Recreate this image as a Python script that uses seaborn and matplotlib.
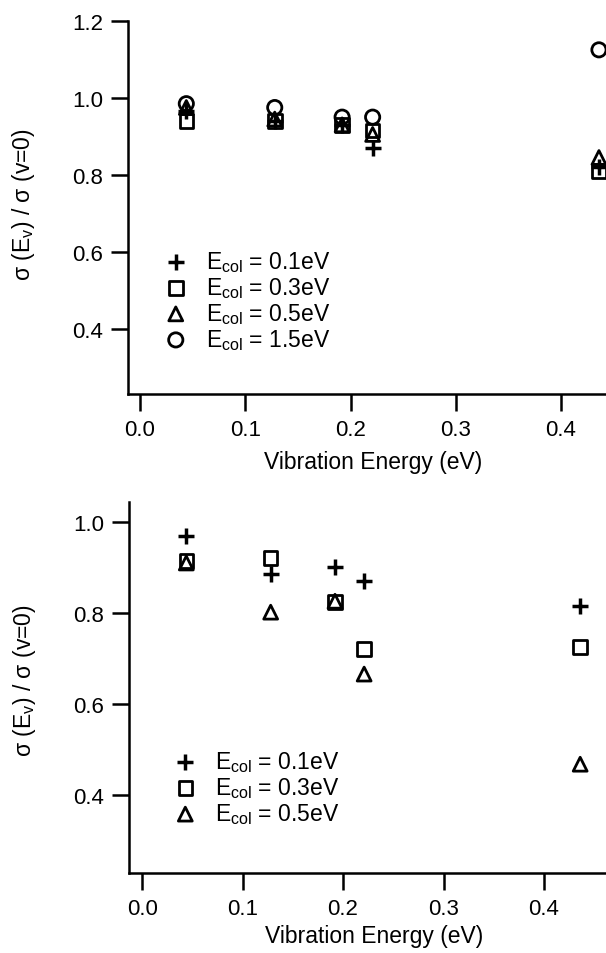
import numpy as np
import pandas as pd
import matplotlib
matplotlib.use("Agg")
import matplotlib.pyplot as plt
import seaborn as sns

# -------------------------------------------
# DATA
# -------------------------------------------
vib_energy = [0.044, 0.128, 0.192, 0.221, 0.436]

top_e01 = [0.965, 0.940, 0.930, 0.870, 0.820]
top_e03 = [0.940, 0.940, 0.930, 0.915, 0.810]
top_e05 = [0.975, 0.945, 0.930, 0.905, 0.845]
top_e15 = [0.985, 0.975, 0.950, 0.950, 1.125]

bot_e01 = [0.969, 0.886, 0.901, 0.870, 0.815]
bot_e03 = [0.914, 0.921, 0.824, 0.721, 0.725]
bot_e05 = [0.910, 0.802, 0.826, 0.666, 0.468]

labels = [r"E$_{\rm col}$ = 0.1eV", r"E$_{\rm col}$ = 0.3eV",
          r"E$_{\rm col}$ = 0.5eV", r"E$_{\rm col}$ = 1.5eV"]
markers = ["+", "s", "^", "o"]
sizes = [140, 95, 100, 105]

x_ticks = [0.0, 0.1, 0.2, 0.3, 0.4]

# -------------------------------------------
# STYLE
# -------------------------------------------
sns.set_style("ticks")
plt.rcParams["font.family"] = ["Liberation Sans", "DejaVu Sans"]
plt.rcParams["mathtext.fontset"] = "custom"
plt.rcParams["mathtext.rm"] = "Liberation Sans"
plt.rcParams["mathtext.it"] = "Liberation Sans:italic"
plt.rcParams["text.color"] = "black"
plt.rcParams["xtick.color"] = "black"
plt.rcParams["ytick.color"] = "black"
plt.rcParams["axes.edgecolor"] = "black"
plt.rcParams["axes.labelcolor"] = "black"


def draw_panel(ax, series, ylim, yticks, label_y, xlabel_y):
    for vals, lab, mk, sz in series:
        df = pd.DataFrame({"E": vib_energy, "ratio": vals})
        if mk == "+":
            sns.scatterplot(data=df, x="E", y="ratio", ax=ax, marker=mk, s=sz,
                            color="black", linewidth=2.5, label=lab, clip_on=False)
        else:
            sns.scatterplot(data=df, x="E", y="ratio", ax=ax, marker=mk, s=sz,
                            facecolors="none", edgecolor="black", linewidth=2.0,
                            label=lab, clip_on=False)
    ax.set_ylim(*ylim)
    ax.set_yticks(yticks)
    ax.set_yticklabels([f"{t:.1f}" for t in yticks])
    ax.set_xticks(x_ticks)
    ax.set_xticklabels([f"{t:.1f}" for t in x_ticks])
    ax.spines["right"].set_visible(False)
    ax.spines["top"].set_visible(False)
    for sp in ["left", "bottom"]:
        ax.spines[sp].set_linewidth(1.8)
    ax.tick_params(axis="both", length=12, width=1.8, labelsize=16, pad=6)
    ax.set_xlabel("Vibration Energy (eV)", fontsize=16.5)
    ax.set_ylabel(r"σ (E$_{\rm v}$) / σ (v=0)", fontsize=16.5)
    ax.yaxis.set_label_coords(-0.19, label_y)
    ax.xaxis.set_label_coords(0.513, xlabel_y)


fig = plt.figure(figsize=(6.06, 9.54), dpi=100)
ax1 = fig.add_axes([128 / 606, 1 - 395 / 954, 1 - 128 / 606, (395 - 22) / 954])
ax2 = fig.add_axes([129 / 606, 1 - 874 / 954, 1 - 129 / 606, (874 - 503) / 954])

draw_panel(ax1, list(zip([top_e01, top_e03, top_e05, top_e15], labels, markers, sizes)),
           (0.23, 1.2), [0.4, 0.6, 0.8, 1.0, 1.2], 0.51, -0.150)
ax1.set_xlim(-0.0114, 0.4427)
draw_panel(ax2, list(zip([bot_e01, bot_e03, bot_e05], labels[:3], markers[:3], sizes[:3])),
           (0.229, 1.044), [0.4, 0.6, 0.8, 1.0], 0.52, -0.138)
ax2.set_xlim(-0.013, 0.4617)

for ax, anchor in [(ax1, (0.052, 0.42)), (ax2, (0.07, 0.365))]:
    ax.legend(loc="upper left", bbox_to_anchor=anchor, frameon=False, fontsize=16.5,
              handletextpad=0.8, labelspacing=0.05, borderpad=0, handlelength=1.0)

fig.savefig("out.png", dpi=100)
